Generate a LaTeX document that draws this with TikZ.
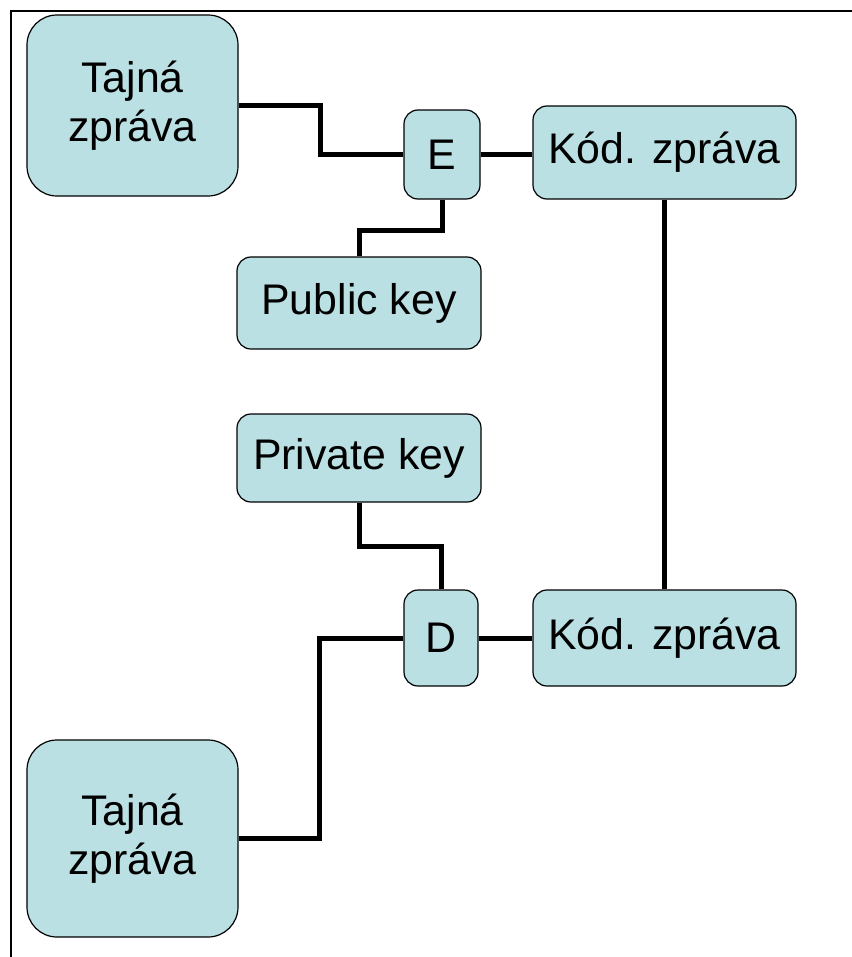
\documentclass[tikz,border=0pt]{standalone}
\usepackage{fontspec}
\setmainfont{Liberation Sans}
\begin{document}
\begin{tikzpicture}[x=1bp,y=-1bp,
  box/.style={draw=black, line width=1.2bp, fill=boxfill, rounded corners=14bp,
    inner sep=0pt, align=center, font=\fontsize{43}{49}\selectfont, anchor=center},
  bigbox/.style={box, rounded corners=30bp},
  conn/.style={line width=5bp, line join=miter}]
\definecolor{boxfill}{RGB}{186,224,227}
\useasboundingbox (0,0) rectangle (852,957);
\draw[line width=1.5bp] (11,957) -- (11,11) -- (852,11);
\node[bigbox, minimum width=211bp, minimum height=181bp] (t1) at (132.5,105.5) {Tajná\\zpráva};
\node[box, minimum width=76bp, minimum height=89bp] (E) at (442,154.5) {E};
\node[box, minimum width=263bp, minimum height=93bp] (k1) at (664.5,152.5) {Kód. zpráva};
\node[box, minimum width=244bp, minimum height=92bp] (pub) at (359,303) {Public key};
\node[box, minimum width=244bp, minimum height=88bp] (priv) at (359,458) {Private key};
\node[box, minimum width=74bp, minimum height=96bp] (D) at (441,638) {D};
\node[box, minimum width=263bp, minimum height=96bp] (k2) at (664.5,638) {Kód. zpráva};
\node[bigbox, minimum width=211bp, minimum height=197bp] (t2) at (132.5,838.5) {Tajná\\zpráva};
\draw[conn] (t1.east) -- ++(82,0) |- (E.west);
\draw[conn] (E.east) -- (E.east -| k1.west);
\draw[conn] (E.south) -- ++(0,31) -| (pub.north);
\draw[conn] (k1.south) -- (k2.north);
\draw[conn] (priv.south) -- ++(0,44) -| (D.north);
\draw[conn] (D.west) -- ++(-84,0) |- (t2.east);
\draw[conn] (D.east) -- (D.east -| k2.west);
\end{tikzpicture}
\end{document}
